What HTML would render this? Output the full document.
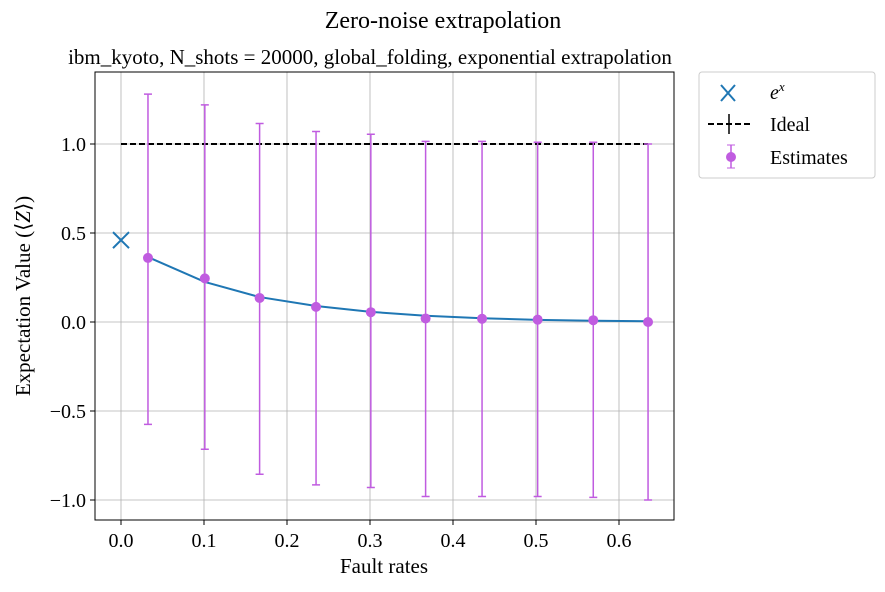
<!DOCTYPE html>
<html><head><meta charset="utf-8"><style>
body{margin:0;background:#fff;width:885px;height:587px;overflow:hidden}
text{font-family:"Liberation Serif",serif;fill:#000}
</style></head><body>
<svg id="chart" width="885" height="587" xmlns="http://www.w3.org/2000/svg">
<text x="443" y="28" font-size="24" text-anchor="middle">Zero-noise extrapolation</text>
<text x="370" y="64" font-size="21" text-anchor="middle">ibm_kyoto, N_shots = 20000, global_folding, exponential extrapolation</text>
<g id="grid"></g>
<g id="marks"></g>
<rect x="95" y="72" width="579" height="448" fill="none" stroke="#000" stroke-width="1"/>
<g id="ticks"></g>
<text x="384" y="573" font-size="21" text-anchor="middle">Fault rates</text>
<text transform="translate(30,296) rotate(-90)" font-size="21" text-anchor="middle">Expectation Value (⟨<tspan font-style="italic">Z</tspan>⟩)</text>
<g>
<rect x="699" y="72" width="176" height="106" rx="3" fill="#fff" stroke="#ccc"/>
<g><path d="M721,85 l14,16 M735,85 l-14,16" stroke="#1f77b4" stroke-width="2"/><text x="770" y="99" font-size="20" font-style="italic">e<tspan font-size="13" dy="-8">x</tspan></text></g>
<g><line x1="708" y1="124" x2="750" y2="124" stroke="#000" stroke-width="2" stroke-dasharray="6,3"/><line x1="729" y1="114" x2="729" y2="134" stroke="#000" stroke-width="1.5"/><text x="770" y="131" font-size="20">Ideal</text></g>
<g><line x1="731" y1="145" x2="731" y2="168" stroke="#c05ce0" stroke-width="1.5"/><line x1="727" y1="145" x2="735" y2="145" stroke="#c05ce0"/><line x1="727" y1="168" x2="735" y2="168" stroke="#c05ce0"/><circle cx="731" cy="157" r="5" fill="#c05ce0"/><text x="770" y="164" font-size="20">Estimates</text></g>
</g>
</svg>
<script>
const faultRates=[0.0325,0.101,0.167,0.235,0.301,0.367,0.435,0.502,0.569,0.635];
const estimates=[0.36,0.245,0.135,0.085,0.055,0.02,0.018,0.013,0.01,0.0];
const errUpper=[1.28,1.22,1.115,1.07,1.055,1.015,1.015,1.01,1.01,1.0];
const errLower=[-0.575,-0.715,-0.855,-0.915,-0.93,-0.98,-0.98,-0.98,-0.985,-1.0];
const fitValues=[0.365,0.225,0.14,0.09,0.057,0.035,0.021,0.012,0.007,0.004];
const extrapolated=[0,0.46];
const idealValue=1.0;
const xTicks=[0,0.1,0.2,0.3,0.4,0.5,0.6];
const xTickLabels=["0.0","0.1","0.2","0.3","0.4","0.5","0.6"];
const yTicks=[-1,-0.5,0,0.5,1];
const yTickLabels=["−1.0","−0.5","0.0","0.5","1.0"];
const X=v=>121+v*830, Y=v=>322-v*178;
const NS="http://www.w3.org/2000/svg";
function mk(parent,tag,attrs){const e=document.createElementNS(NS,tag);for(const k in attrs)e.setAttribute(k,attrs[k]);document.getElementById(parent).appendChild(e);return e;}
xTicks.forEach((t,i)=>{
 const g=mk('grid','line',{x1:X(t),x2:X(t),y1:72,y2:520,stroke:'#b0b0b0','stroke-width':0.8});
 
 
 const tk=mk('ticks','line',{x1:X(t),x2:X(t),y1:520,y2:525,stroke:'#000'});
 
 
 const l=mk('ticks','text',{x:X(t),y:547,'font-size':20,'text-anchor':'middle'});l.textContent=xTickLabels[i];
 
 
});
yTicks.forEach((t,i)=>{
 const g=mk('grid','line',{x1:95,x2:674,y1:Y(t),y2:Y(t),stroke:'#b0b0b0','stroke-width':0.8});
 
 
 const tk=mk('ticks','line',{x1:90,x2:95,y1:Y(t),y2:Y(t),stroke:'#000'});
 
 
 const l=mk('ticks','text',{x:86,y:Y(t)+7,'font-size':20,'text-anchor':'end'});l.textContent=yTickLabels[i];
 
 
});
const ideal=mk('marks','line',{x1:X(0),x2:X(faultRates[faultRates.length-1]),y1:Y(idealValue),y2:Y(idealValue),stroke:'#000','stroke-width':2,'stroke-dasharray':'6,3'});


faultRates.forEach((f,i)=>{
 const c='#c05ce0';
 const e=mk('marks','path',{d:`M${X(f)},${Y(errUpper[i])}V${Y(errLower[i])}M${X(f)-4},${Y(errUpper[i])}h8M${X(f)-4},${Y(errLower[i])}h8`,stroke:c,'stroke-width':1.5,fill:'none'});
 
 
});
const fit=mk('marks','polyline',{points:faultRates.map((f,i)=>X(f)+','+Y(fitValues[i])).join(' '),fill:'none',stroke:'#1f77b4','stroke-width':2});


faultRates.forEach((f,i)=>{
 const p=mk('marks','circle',{cx:X(f),cy:Y(estimates[i]),r:5,fill:'#c05ce0'});
 
 
});
const ex=mk('marks','path',{d:`M${X(extrapolated[0])-8},${Y(extrapolated[1])-8}l16,16M${X(extrapolated[0])+8},${Y(extrapolated[1])-8}l-16,16`,stroke:'#1f77b4','stroke-width':2});


</script>
</body></html>
